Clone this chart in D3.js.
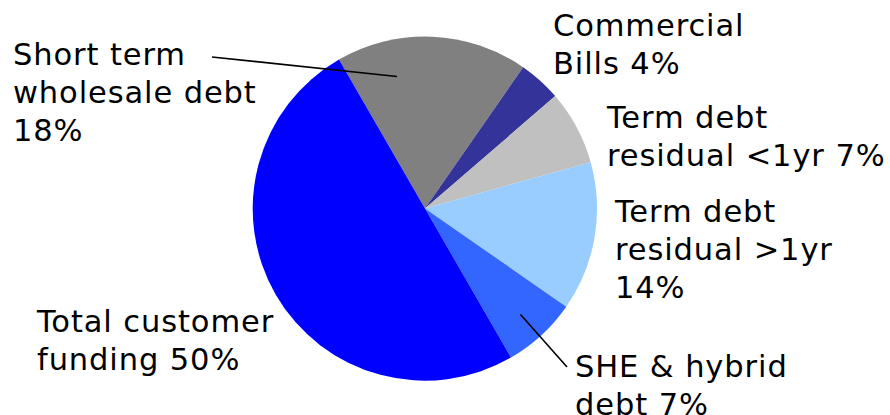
<!DOCTYPE html>
<html>
<head>
<meta charset="utf-8">
<script src="https://cdn.jsdelivr.net/npm/d3@7"></script>
<style>
  html, body { margin: 0; padding: 0; background: #fff; }
  svg { display: block; }
  text { font-family: "DejaVu Sans", Verdana, sans-serif; font-size: 30.5px; letter-spacing: 0.9px; fill: #000; }
</style>
</head>
<body>
<svg id="chart" width="890" height="415"></svg>
<script>
// Funding mix, in percent, clockwise from the top-left
const categories = [
  "Short term wholesale debt",
  "Commercial Bills",
  "Term debt residual <1yr",
  "Term debt residual >1yr",
  "SHE & hybrid debt",
  "Total customer funding"
];
const shares = [18, 4, 7, 14, 7, 50];
const colors = ["#808080", "#333399", "#C0C0C0", "#99CCFF", "#3366FF", "#0000FF"];

// Label text, split into lines
const labelLines = [
  ["Short term", "wholesale debt", "18%"],
  ["Commercial", "Bills 4%"],
  ["Term debt", "residual <1yr 7%"],
  ["Term debt", "residual >1yr", "14%"],
  ["SHE & hybrid", "debt 7%"],
  ["Total customer", "funding 50%"]
];

// Label placement: left edge and first baseline of each text block
const labelX = [13, 553, 607, 615, 575, 37];
const labelY = [65, 36, 128, 222, 377, 332];
const lineHeight = 38;

// Leader lines: [angle in degrees, radius fraction] of the inner end, outer end in px
const leaders = [
  { slice: 0, angle: -12, frac: 0.785, x2: 212, y2: 57 },
  { slice: 4, angle: 138, frac: 0.83, x2: 567, y2: 367 }
];

const svg = d3.select("#chart");
const cx = 425, cy = 208.5, R = 172;
const startDeg = -30;

const pie = d3.pie()
  .sort(null)
  .value(d => d)
  .startAngle(startDeg * Math.PI / 180)
  .endAngle((startDeg + 360) * Math.PI / 180);

const arc = d3.arc().innerRadius(0).outerRadius(R);

const g = svg.append("g").attr("transform", `translate(${cx},${cy})`);

g.selectAll("path.slice")
  .data(pie(shares))
  .join("path")
  .attr("class", "slice")
  .attr("d", arc)
  .attr("fill", (d, i) => colors[i]);

// Leader lines
leaders.forEach(l => {
  const a = l.angle * Math.PI / 180;
  const r = R * l.frac;
  svg.append("line")
    .attr("x1", cx + r * Math.sin(a))
    .attr("y1", cy - r * Math.cos(a))
    .attr("x2", l.x2)
    .attr("y2", l.y2)
    .attr("stroke", "#000")
    .attr("stroke-width", 1.6);
});

// Labels
labelLines.forEach((lines, i) => {
  const t = svg.append("text")
    .attr("x", labelX[i])
    .attr("y", labelY[i]);
  lines.forEach((s, k) => {
    t.append("tspan")
      .attr("x", labelX[i])
      .attr("y", labelY[i] + k * lineHeight)
      .text(s);
  });
});
</script>
</body>
</html>
